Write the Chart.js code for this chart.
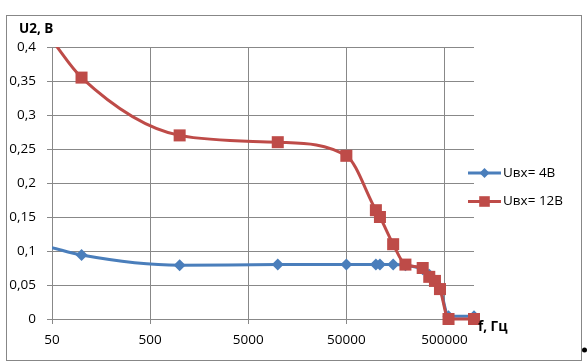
<!DOCTYPE html>
<html>
<head>
<meta charset="utf-8">
<script src="https://cdn.jsdelivr.net/npm/chart.js@4"></script>
<style>
  html, body { margin: 0; padding: 0; background: #fff; }
  #wrap { width: 587px; height: 364px; position: relative; }
</style>
</head>
<body>
<div id="wrap"><canvas id="c" width="587" height="364"></canvas></div>
<script>
// ---- data ----
const frequencies = [50, 100, 1000, 10000, 50000, 100000, 110000, 150000, 200000, 300000, 350000, 400000, 450000, 550000, 1000000];
const u2Input4V  = [0.105, 0.094, 0.079, 0.080, 0.080, 0.080, 0.080, 0.080, 0.079, 0.073, 0.065, 0.055, 0.046, 0.004, 0.004];
const u2Input12V = [0.41, 0.355, 0.27, 0.26, 0.24, 0.16, 0.15, 0.11, 0.08, 0.075, 0.062, 0.056, 0.044, 0.0, 0.0];
const seriesNames = ['Uвх= 4В', 'Uвх= 12В'];
const xTicks = [50, 500, 5000, 50000, 500000];
const xTickLabels = ['50', '500', '5000', '50000', '500000'];
const yTicks = [0, 0.05, 0.1, 0.15, 0.2, 0.25, 0.3, 0.35, 0.4];
const yTickLabels = ['0', '0,05', '0,1', '0,15', '0,2', '0,25', '0,3', '0,35', '0,4'];
const yAxisTitle = 'U2, В';
const xAxisTitle = 'f, Гц';

const FONT = '"Open Sans", "Liberation Sans", sans-serif';
const BLUE = '#4A7EBB';
const RED = '#BE4B48';
const GRID = '#888888';

const toPoints = (ys) => frequencies.map((f, i) => ({ x: f, y: ys[i] }));

const decorPlugin = {
  id: 'decor',
  beforeDraw(chart) {
    const ctx = chart.ctx;
    ctx.save();
    ctx.fillStyle = '#fff';
    ctx.fillRect(0, 0, chart.width, chart.height);
    ctx.strokeStyle = '#878787';
    ctx.lineWidth = 1;
    ctx.strokeRect(6.5, 15.5, 575, 345);
    ctx.restore();
  },
  afterDraw(chart) {
    const ctx = chart.ctx;
    ctx.save();
    // axis titles
    ctx.fillStyle = '#000';
    ctx.font = 'bold 13.5px ' + FONT;
    ctx.textBaseline = 'middle';
    ctx.textAlign = 'left';
    ctx.fillText(yAxisTitle, 19, 29);
    ctx.fillText(xAxisTitle, 478, 327);
    // legend
    const ys = [173, 201.5];
    chart.data.datasets.forEach((ds, i) => {
      const y = ys[i];
      ctx.strokeStyle = ds.borderColor;
      ctx.lineWidth = 3;
      ctx.beginPath();
      ctx.moveTo(468, y);
      ctx.lineTo(501, y);
      ctx.stroke();
      ctx.fillStyle = ds.backgroundColor;
      Chart.helpers.drawPoint(ctx, {
        pointStyle: ds.pointStyle,
        radius: i === 0 ? 5 : 7.5,
        rotation: 0,
        borderWidth: 0
      }, 484.5, y);
      ctx.fillStyle = '#000';
      ctx.font = '13.5px ' + FONT;
      ctx.textAlign = 'left';
      ctx.textBaseline = 'middle';
      ctx.fillText(ds.label, 503, y);
    });
    // small stray dot at the right edge as in the reference
    ctx.fillStyle = '#000';
    ctx.beginPath();
    ctx.arc(584.5, 350, 2.5, 0, Math.PI * 2);
    ctx.fill();
    ctx.restore();
  }
};

const CLIP = { left: 0, top: 0, right: 12, bottom: 12 };

new Chart(document.getElementById('c'), {
  type: 'line',
  data: {
    datasets: [
      {
        label: seriesNames[0],
        data: toPoints(u2Input4V),
        borderColor: BLUE,
        backgroundColor: BLUE,
        borderWidth: 3,
        pointStyle: 'rectRot',
        pointRadius: (c) => (c.dataIndex === 0 ? 0 : 6),
        pointHoverRadius: 6,
        pointBorderWidth: 0,
        cubicInterpolationMode: 'monotone',
        clip: CLIP,
        order: 1
      },
      {
        label: seriesNames[1],
        data: toPoints(u2Input12V),
        borderColor: RED,
        backgroundColor: RED,
        borderWidth: 3,
        pointStyle: 'rect',
        pointRadius: (c) => (c.dataIndex === 0 ? 0 : 8.5),
        pointHoverRadius: 8.5,
        pointBorderWidth: 0,
        cubicInterpolationMode: 'monotone',
        clip: CLIP,
        order: 0
      }
    ]
  },
  options: {
    responsive: false,
    animation: false,
    events: [],
    layout: { padding: { left: 0, right: 113, top: 47, bottom: 0 } },
    plugins: {
      legend: { display: false },
      tooltip: { enabled: false },
      title: { display: false }
    },
    scales: {
      x: {
        type: 'logarithmic',
        min: 50,
        max: 1000000,
        bounds: 'data',
        afterBuildTicks: (s) => { s.ticks = xTicks.map((v) => ({ value: v })); },
        afterFit: (s) => { s.height = 45; },
        border: { display: true, color: GRID, width: 1 },
        grid: { color: GRID, lineWidth: 1, tickLength: 5, drawTicks: true },
        ticks: {
          autoSkip: false,
          maxRotation: 0,
          padding: 8,
          color: '#000',
          font: { family: FONT, size: 13.5 },
          callback: (v, i) => xTickLabels[i]
        }
      },
      y: {
        type: 'linear',
        min: 0,
        max: 0.4,
        afterBuildTicks: (s) => { s.ticks = yTicks.map((v) => ({ value: v })); },
        afterFit: (s) => { s.width = 52; },
        border: { display: true, color: GRID, width: 1 },
        grid: { color: GRID, lineWidth: 1, tickLength: 5, drawTicks: true },
        ticks: {
          autoSkip: false,
          padding: 11,
          color: '#000',
          font: { family: FONT, size: 13.5 },
          callback: (v, i) => yTickLabels[i]
        }
      }
    }
  },
  plugins: [decorPlugin]
});
</script>
</body>
</html>
